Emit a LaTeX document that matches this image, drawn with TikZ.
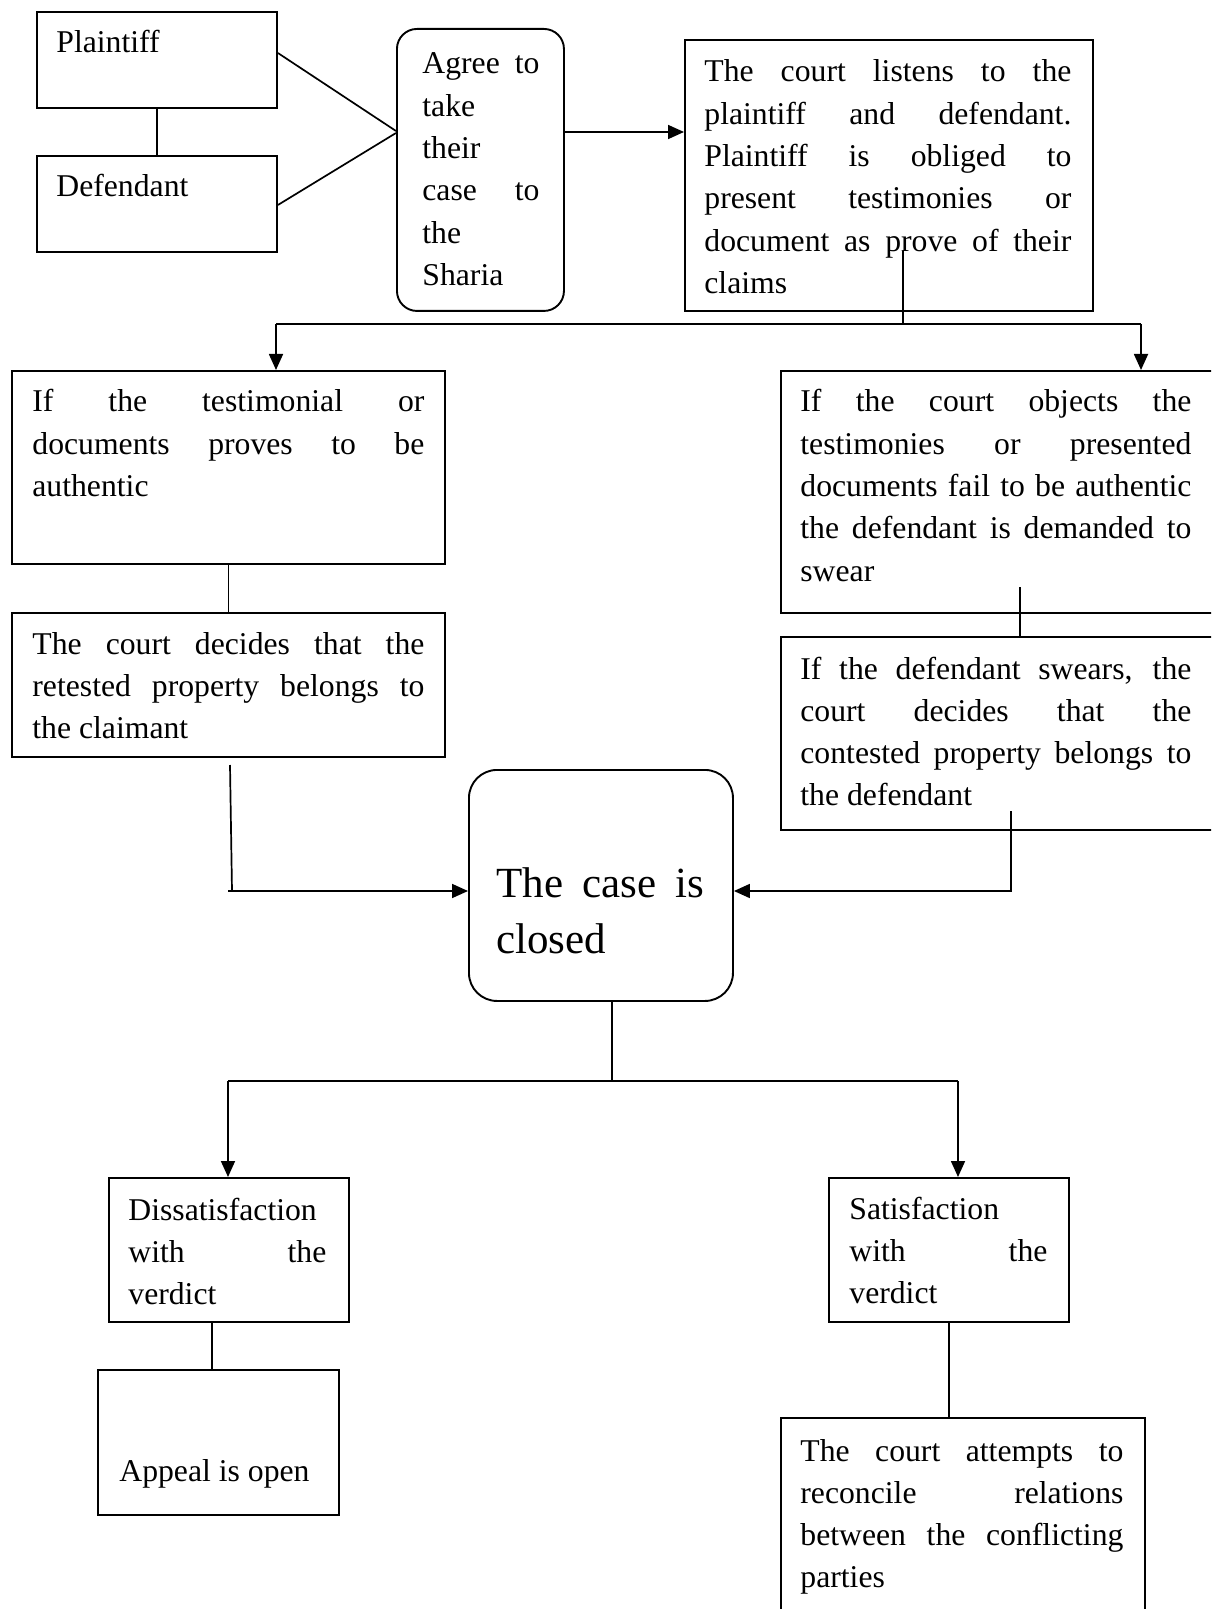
\documentclass[tikz,border=0pt]{standalone}
\usepackage{fontspec}
\setmainfont{Liberation Serif}
\usetikzlibrary{arrows.meta,calc}
\newcommand\fs{\fontsize{15.85pt}{21.15pt}\selectfont}
\newcommand\fsbig{\fontsize{21.5pt}{28pt}\selectfont}
\newcommand\mybox[6][]{\node[box,#1,minimum width={(#5-#3)*0.5pt},minimum height={(#6-#4)*0.5pt}] (#2) at (#3,#4) {};}
\begin{document}
\begin{tikzpicture}[x=0.5pt,y=-0.5pt,
 box/.style={draw,line width=0.95pt,anchor=north west,inner sep=0pt},
 rbox/.style={rounded corners=10pt},
 txt/.style={anchor=base west,inner sep=0pt,align=justify,font=\fs,
   execute at begin node={\tolerance=10000 \hyphenpenalty=10000 \exhyphenpenalty=10000 \hbadness=10000}},
 ln/.style={line width=0.85pt},
 arr/.style={ln,-{Triangle[length=8pt,width=7pt]}}]
\useasboundingbox (0,0) rectangle (1211,1609);
\clip (0,0) rectangle (1211,1609);
% boxes
\mybox{P}{36}{11}{276}{107}
\mybox{Df}{36}{155}{276}{251}
\mybox[rbox]{AG}{396}{28}{563}{310}
\mybox{CT}{684}{39}{1092}{310}
\mybox{A}{11}{370}{444}{563}
\mybox{B}{11}{612}{444}{756}
\mybox{C}{780}{370}{1216}{612}
\mybox{Sw}{780}{636}{1216}{829}
\mybox[rounded corners=14pt]{CL}{468}{769}{732}{1000}
\mybox{DS}{108}{1177}{348}{1321}
\mybox{AP}{97}{1369}{338}{1514}
\mybox{SA}{828}{1177}{1068}{1321}
\mybox{RC}{780}{1417}{1144}{1616}
% texts
\node[txt] (tP) at (56,53) {Plaintiff};
\node[txt] (tD) at (56,197) {Defendant};
\node[txt,text width=58.5pt] (tAG) at (422,74) {Agree to\linebreak take\linebreak their\linebreak case to\linebreak the\linebreak Sharia};
\node[txt,text width=183.5pt] (tCT) at (704,82) {The court listens to the\linebreak plaintiff and defendant.\linebreak Plaintiff is obliged to\linebreak present testimonies or\linebreak document as prove of their\linebreak claims};
\node[txt,text width=196pt] (tA) at (32,412) {If the testimonial or\linebreak documents proves to be\linebreak authentic};
\node[txt,text width=196pt] (tB) at (32,654) {The court decides that the\linebreak retested property belongs to\linebreak the claimant};
\node[txt,text width=195.5pt] (tC) at (800,412) {If the court objects the\linebreak testimonies or presented\linebreak documents fail to be authentic\linebreak the defendant is demanded to\linebreak swear};
\node[txt,text width=195.5pt] (tSw) at (800,679) {If the defendant swears, the\linebreak court decides that the\linebreak contested property belongs to\linebreak the defendant};
\node[txt,font=\fsbig,text width=104pt] (tCL) at (496,897) {The case is\linebreak closed};
\node[txt,text width=99pt] (tDS) at (128,1220) {Dissatisfaction\linebreak with the\linebreak verdict};
\node[txt,text width=99pt] (tSA) at (849,1219) {Satisfaction\linebreak with the\linebreak verdict};
\node[txt] (tAP) at (119,1481) {Appeal is open};
\node[txt,text width=161.5pt] (tRC) at (800,1461) {The court attempts to\linebreak reconcile relations\linebreak between the conflicting\linebreak parties};
% connectors
\draw[ln] (P.south) -- (Df.north);
\draw[ln] ($(P.north east)+(0,42)$) -- ($(AG.north west)+(0,103)$);
\draw[ln] ($(Df.north east)+(0,50)$) -- ($(AG.north west)+(0,105)$);
\coordinate (a1) at ($(AG.north east)+(0,104)$);
\draw[arr] (a1) -- (a1 -| CT.west);
\coordinate (c0) at (903,251);
\coordinate (j0) at (903,324);
\coordinate (jl) at (276,324);
\coordinate (jr) at (1141,324);
\draw[ln] (c0) -- (j0);
\draw[ln] (jl) -- (jr);
\draw[arr] (jl) -- (jl |- A.north);
\draw[arr] (jr) -- (jr |- C.north);
\draw[ln] (A.south) -- (B.north);
\coordinate (c1) at (1020,587);
\draw[ln] (c1) -- (c1 |- Sw.north);
\coordinate (s1) at (1011,811);
\coordinate (s2) at (1011,891);
\draw[arr] (s1) -- (s2) -- (s2 -| CL.east);
\coordinate (b1) at (230,765);
\coordinate (b2) at (232,891);
\coordinate (b3) at (228,891);
\draw[ln] (b1) -- (b2);
\draw[arr] (b3) -- (b3 -| CL.west);
\coordinate (k1) at (612,1081);
\draw[ln] (k1 |- CL.south) -- (k1);
\coordinate (kl) at (228,1081);
\coordinate (kr) at (958,1081);
\draw[ln] (kl) -- (kr);
\draw[arr] (kl) -- (kl |- DS.north);
\draw[arr] (kr) -- (kr |- SA.north);
\coordinate (q1) at (212,1321);
\draw[ln] (q1) -- (q1 |- AP.north);
\draw[ln] (SA.south) -- (SA.south |- RC.north);
\end{tikzpicture}
\end{document}
